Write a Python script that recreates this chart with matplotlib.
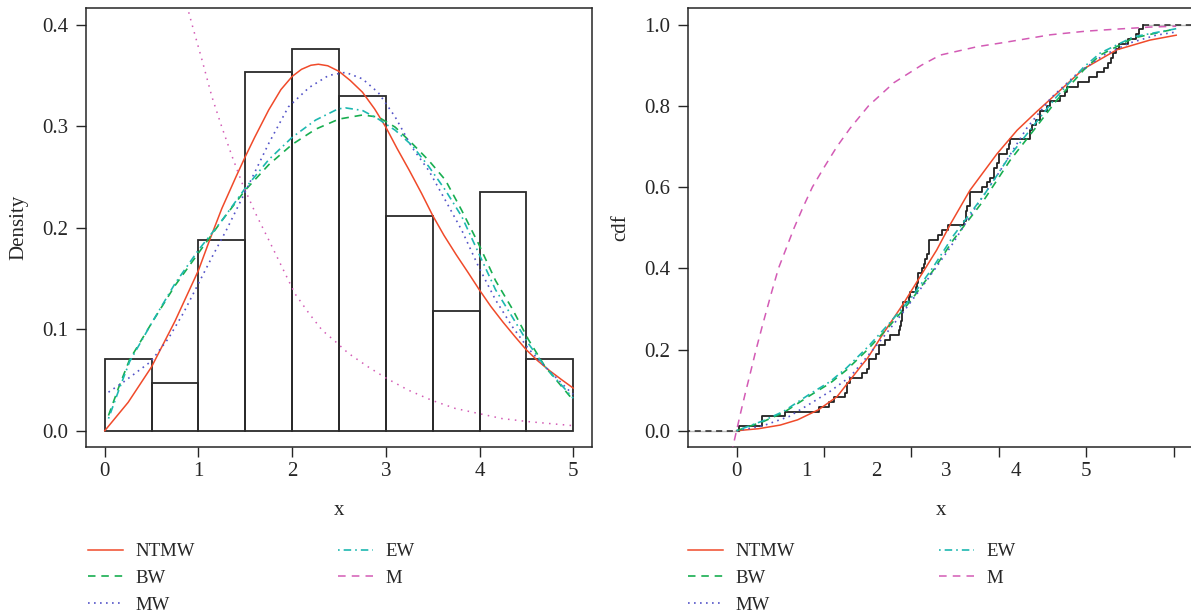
import numpy as np
import matplotlib
matplotlib.use("Agg")
import matplotlib.pyplot as plt
from matplotlib.lines import Line2D
from matplotlib.ticker import FormatStrFormatter

plt.rcParams['font.family'] = ['Liberation Serif', 'DejaVu Serif']

# ---------------- data ----------------
bin_left = [0.0, 0.5, 1.0, 1.5, 2.0, 2.5, 3.0, 3.5, 4.0, 4.5]
bin_density = [0.0706, 0.0471, 0.1882, 0.3529, 0.3765, 0.3294, 0.2118, 0.1176, 0.2353, 0.0706]

# fitted densities (left panel)
ntmw_x = [0, 0.25, 0.5, 0.75, 1.0, 1.12, 1.25, 1.4, 1.5, 1.6, 1.75, 1.88, 2.0, 2.1, 2.2, 2.28,
          2.38, 2.5, 2.62, 2.75, 2.88, 3.0, 3.12, 3.25, 3.38, 3.5, 3.62, 3.75, 3.88, 4.0, 4.12,
          4.25, 4.38, 4.5, 4.62, 4.75, 4.88, 5.0]
ntmw_pdf = [0, 0.028, 0.063, 0.108, 0.158, 0.188, 0.219, 0.25, 0.27, 0.289, 0.316, 0.336, 0.349,
            0.356, 0.360, 0.361, 0.3595, 0.354, 0.345, 0.3335, 0.317, 0.299, 0.278, 0.2565, 0.234,
            0.212, 0.1925, 0.1735, 0.1555, 0.1385, 0.1225, 0.107, 0.0925, 0.0796, 0.069, 0.059,
            0.05, 0.042]

bw_x = [0.04, 0.15, 0.265, 0.5, 0.75, 1.0, 1.25, 1.5, 1.75, 2.0, 2.25, 2.5, 2.75, 2.92, 3.1, 3.28,
        3.46, 3.635, 3.81, 3.99, 4.17, 4.35, 4.52, 4.70, 5.0]
bw_pdf = [0.015, 0.043, 0.07, 0.106, 0.143, 0.175, 0.207, 0.237, 0.262, 0.282, 0.297, 0.307, 0.311,
          0.309, 0.299, 0.283, 0.266, 0.247, 0.217, 0.184, 0.148, 0.12, 0.09, 0.063, 0.03]

mw_x = [0.04, 0.2, 0.49, 0.68, 0.84, 1.0, 1.15, 1.3, 1.54, 1.75, 1.96, 2.18, 2.39, 2.57, 2.75, 2.92,
        3.1, 3.28, 3.46, 3.635, 3.81, 3.99, 4.17, 4.35, 4.52, 4.70, 4.95, 5.0]
mw_pdf = [0.038, 0.048, 0.068, 0.091, 0.116, 0.145, 0.172, 0.198, 0.243, 0.283, 0.319, 0.338, 0.35,
          0.353, 0.3466, 0.333, 0.309, 0.279, 0.256, 0.227, 0.1975, 0.1615, 0.129, 0.1025, 0.081,
          0.063, 0.04, 0.036]

ew_x = [0.04, 0.15, 0.265, 0.5, 0.75, 1.0, 1.25, 1.5, 1.75, 2.0, 2.25, 2.49, 2.57, 2.75, 2.92, 3.1,
        3.28, 3.46, 3.635, 3.81, 3.99, 4.17, 4.35, 4.52, 4.7, 5.0]
ew_pdf = [0.012, 0.04, 0.068, 0.106, 0.145, 0.178, 0.207, 0.239, 0.267, 0.289, 0.306, 0.317, 0.318,
          0.3155, 0.307, 0.296, 0.281, 0.26, 0.237, 0.211, 0.175, 0.139, 0.112, 0.086, 0.063, 0.032]

m_x = [0.8, 0.93, 1.04, 1.145, 1.25, 1.36, 1.47, 1.61, 1.75, 1.89, 2.03, 2.18, 2.32, 2.46, 2.60,
       2.81, 3.0, 3.24, 3.49, 3.74, 3.99, 4.24, 4.52, 4.88, 5.0]
m_pdf = [0.445, 0.4007, 0.3646, 0.3286, 0.299, 0.27, 0.243, 0.214, 0.188, 0.1615, 0.135, 0.1156,
         0.099, 0.088, 0.0763, 0.063, 0.052, 0.040, 0.030, 0.022, 0.017, 0.012, 0.009, 0.006, 0.005]

# fitted cdfs (right panel)
ntmw_cx = [0, 0.25, 0.5, 0.7, 0.94, 1.15, 1.3, 1.42, 1.5, 1.68, 1.9, 2.03, 2.29, 2.45, 2.67, 2.98,
           3.21, 3.43, 3.66, 3.97, 4.35, 4.73, 5.03]
ntmw_cdf = [0, 0.005, 0.014, 0.027, 0.052, 0.084, 0.125, 0.158, 0.179, 0.24, 0.31, 0.355, 0.445,
            0.51, 0.592, 0.682, 0.74, 0.785, 0.83, 0.891, 0.938, 0.962, 0.974]

bw_cx = [0, 0.31, 0.54, 0.85, 1.07, 1.26, 1.5, 1.75, 2.0, 2.25, 2.48, 2.83, 3.13, 3.40, 3.66, 3.97,
         4.16, 4.54, 5.03]
bw_cdf = [0, 0.023, 0.045, 0.088, 0.117, 0.15, 0.2, 0.258, 0.322, 0.395, 0.47, 0.568, 0.666, 0.74,
          0.813, 0.888, 0.925, 0.967, 0.99]

ew_cx = [0, 0.31, 0.54, 0.85, 1.07, 1.26, 1.5, 1.75, 2.0, 2.25, 2.48, 2.83, 3.13, 3.40, 3.66, 3.97,
         4.16, 4.54, 5.03]
ew_cdf = [0, 0.025, 0.048, 0.092, 0.121, 0.155, 0.206, 0.265, 0.328, 0.403, 0.48, 0.58, 0.678, 0.752,
          0.822, 0.895, 0.93, 0.97, 0.99]

mw_cx = [0, 0.3, 0.6, 0.846, 1.07, 1.3, 1.627, 1.9, 2.18, 2.45, 2.75, 3.0, 3.32, 3.6, 3.9, 4.2, 4.5,
         4.8, 5.03]
mw_cdf = [0, 0.012, 0.035, 0.067, 0.097, 0.133, 0.2166, 0.29, 0.371, 0.453, 0.555, 0.635, 0.745,
          0.82, 0.88, 0.925, 0.955, 0.974, 0.982]

m_cx = [-0.06, 0, 0.05, 0.1, 0.15, 0.224, 0.3, 0.4, 0.48, 0.57, 0.66, 0.76, 0.868, 1.0, 1.15, 1.3,
        1.51, 1.8, 2.115, 2.33, 2.76, 3.06, 3.59, 4.0, 4.35, 4.73, 5.03]
m_cdf = [-0.057, 0, 0.047, 0.092, 0.135, 0.2, 0.262, 0.34, 0.4, 0.45, 0.5, 0.55, 0.6, 0.648, 0.7,
         0.745, 0.8, 0.857, 0.9, 0.925, 0.946, 0.956, 0.975, 0.984, 0.989, 0.994, 0.996]

# observed sample (empirical cdf), read from the step function
sample = [0.03, 0.29, 0.29, 0.55, 0.94,
          1.055, 1.112, 1.246, 1.264, 1.264, 1.30, 1.43, 1.49, 1.51, 1.51,
          1.60, 1.627, 1.627, 1.70, 1.76, 1.855,
          1.87, 1.88, 1.89, 1.895, 1.90, 1.91,
          1.97, 1.99, 2.05, 2.065, 2.08, 2.08, 2.12, 2.14, 2.16, 2.18, 2.20, 2.20, 2.20,
          2.30, 2.35, 2.42,
          2.598, 2.62, 2.62, 2.64, 2.674, 2.674, 2.674,
          2.81, 2.86, 2.90, 2.94, 2.94, 2.98, 3.0, 3.0,
          3.10, 3.12, 3.13,
          3.36, 3.36, 3.38, 3.43, 3.47, 3.47,
          3.55, 3.59, 3.70, 3.76, 3.78,
          3.91, 4.03, 4.12, 4.20, 4.25, 4.28, 4.31, 4.34, 4.37, 4.48, 4.57, 4.60, 4.655]

model_names = ['NTMW', 'BW', 'MW', 'EW', 'M']
left_xticks = [0, 1, 2, 3, 4, 5]
left_yticks = [0.0, 0.1, 0.2, 0.3, 0.4]
right_xticks = [0, 1, 2, 3, 4, 5]
right_xlabel_pos = [0, 0.8, 1.6, 2.4, 3.2, 4.0]
right_xlabels = ['0', '1', '2', '3', '4', '5']
right_yticks = [0.0, 0.2, 0.4, 0.6, 0.8, 1.0]

# ---------------- styles ----------------
RED = '#F04A2A'
GREEN = '#18AE50'
BLUE = '#5454C8'
CYAN = '#1DB8B0'
PINK = '#D35BB5'
INK = '#262626'
FS = 15
FS_LEG = 13.5
LW = 1.1

sty = {
    'NTMW': dict(color=RED, lw=LW, linestyle='-'),
    'BW': dict(color=GREEN, lw=1.2, linestyle=(0, (4.5, 3.5))),
    'MW': dict(color=BLUE, lw=1.2, linestyle=(0, (1, 2.6))),
    'EW': dict(color=CYAN, lw=1.2, linestyle=(0, (1, 2.4, 4.5, 2.4))),
    'M': dict(color=PINK, lw=1.1, linestyle=(0, (5, 4))),
}

fig = plt.figure(figsize=(11.91, 6.16), dpi=100)
W, H = 1191.0, 616.0
ax1 = fig.add_axes([86 / W, (H - 447) / H, 506 / W, 438.6 / H])
ax2 = fig.add_axes([688 / W, (H - 447) / H, 507 / W, 438.6 / H])

for ax in (ax1, ax2):
    for s in ax.spines.values():
        s.set_linewidth(1.1)
        s.set_color(INK)
    ax.tick_params(direction='out', length=7.5, width=1.0, color=INK,
                   labelsize=FS, labelcolor=INK)
    ax.tick_params(axis='x', pad=3)
    ax.tick_params(axis='y', pad=5)
    ax.yaxis.set_major_formatter(FormatStrFormatter('%.1f'))

# ---- left panel: histogram + densities ----
ax1.bar(bin_left, bin_density, width=0.5, align='edge', fill=False,
        edgecolor='#2a2a2a', linewidth=1.3, zorder=2)
ax1.plot(ntmw_x, ntmw_pdf, zorder=3, **sty['NTMW'])
ax1.plot(bw_x, bw_pdf, zorder=3, **sty['BW'])
ax1.plot(mw_x, mw_pdf, zorder=3, **sty['MW'])
ax1.plot(ew_x, ew_pdf, zorder=3, **sty['EW'])
ax1.plot(m_x, m_pdf, color=PINK, lw=1.1, linestyle=(0, (1, 3.5)), zorder=3)
ax1.set_xlim(-0.2, 5.2)
ax1.set_ylim(-0.016, 0.416)
ax1.set_xticks(left_xticks)
ax1.set_yticks(left_yticks)
ax1.set_xlabel('x', fontsize=FS, color=INK, labelpad=15)
ax1.set_ylabel('Density', fontsize=FS, color=INK, labelpad=10)

# ---- right panel: ecdf + cdfs ----
xs = np.sort(np.array(sample))
ax2.plot([-0.6, xs[0]], [0, 0], color='#BDBDBD', lw=1.0, zorder=1)
ax2.plot([xs[-1], 5.3], [1, 1], color='#BDBDBD', lw=1.0, zorder=1)
ax2.plot([-0.6, xs[0]], [0, 0], color=INK, lw=1.1, linestyle=(0, (4, 3)), zorder=2)
ax2.plot([xs[-1], 5.3], [1, 1], color=INK, lw=1.1, linestyle=(0, (4, 3)), zorder=2)
ax2.ecdf(xs, color='#222222', lw=1.3, zorder=2)
ax2.plot(ntmw_cx, ntmw_cdf, zorder=3, **sty['NTMW'])
ax2.plot(bw_cx, bw_cdf, zorder=3, **sty['BW'])
ax2.plot(mw_cx, mw_cdf, zorder=3, **sty['MW'])
ax2.plot(ew_cx, ew_cdf, zorder=3, **sty['EW'])
ax2.plot(m_cx, m_cdf, zorder=3, **sty['M'])
ax2.set_xlim(-0.555, 5.245)
ax2.set_ylim(-0.04, 1.04)
ax2.xaxis.remove_overlapping_locs = False
ax2.set_xticks(right_xticks, labels=[''] * len(right_xticks))
ax2.set_xticks(right_xlabel_pos, labels=right_xlabels, minor=True)
ax2.tick_params(axis='x', which='minor', length=0, pad=3 + 7.5, labelsize=FS, labelcolor=INK)
ax2.set_yticks(right_yticks)
ax2.set_xlabel('x', fontsize=FS, color=INK, labelpad=15)
ax2.set_ylabel('cdf', fontsize=FS, color=INK, labelpad=10)

# ---- legends ----
def handles(names):
    return [Line2D([], [], **sty[n]) for n in names]

leg_kw = dict(loc='upper left', frameon=False, borderpad=0, borderaxespad=0,
              handlelength=1.85, handletextpad=0.7, labelspacing=0.51,
              fontsize=FS_LEG, labelcolor=INK)
top = 1 - 543 / H
for x0, x1 in [(88, 338), (688, 939)]:
    fig.legend(handles(model_names[:3]), model_names[:3],
               bbox_to_anchor=(x0 / W, top), **leg_kw)
    fig.legend(handles(model_names[3:]), model_names[3:],
               bbox_to_anchor=(x1 / W, top), **leg_kw)

fig.savefig('out.png', dpi=100)
